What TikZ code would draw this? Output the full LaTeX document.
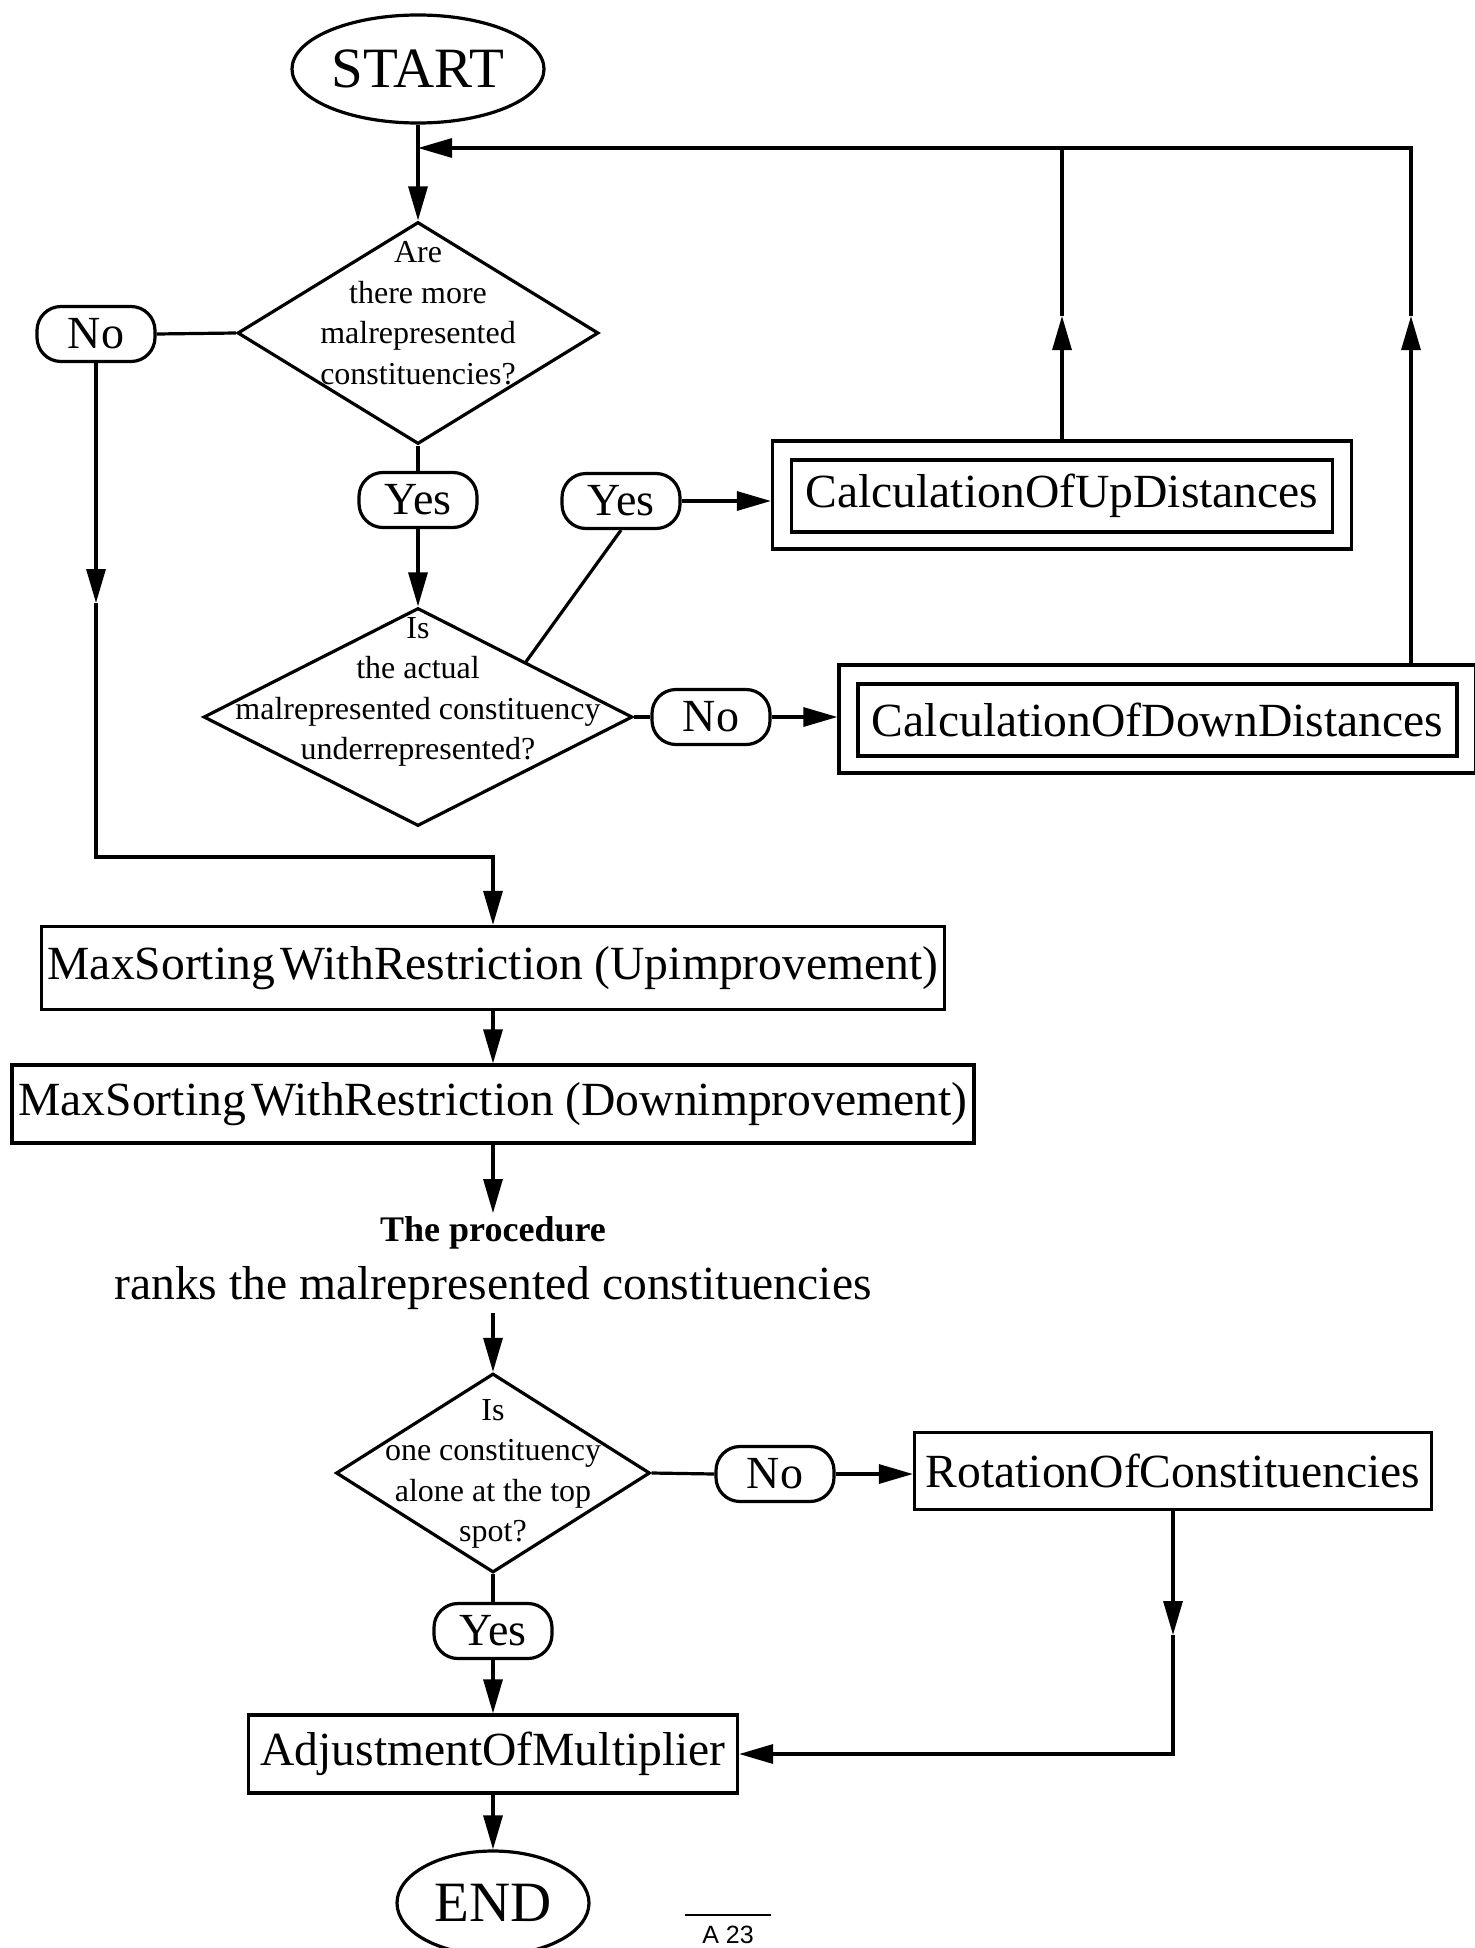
\documentclass[tikz,border=0pt]{standalone}
\usepackage{fontspec}
\setmainfont{Liberation Serif}
\newfontfamily\labelsans{Liberation Sans}
\usetikzlibrary{shapes.geometric,arrows.meta}

\begin{document}
\begin{tikzpicture}[x=0.5pt,y=-0.5pt,
  line width=1.6pt,
  arr/.style={-{Triangle[length=17pt,width=9.5pt]}},
  term/.style={ellipse,draw,inner sep=0pt,font=\fontsize{28.5}{30}\selectfont},
  ans/.style={draw,rounded corners=12pt,inner sep=0pt,minimum width=59pt,minimum height=27.5pt,font=\fontsize{23}{24}\selectfont},
  proc/.style={draw,inner sep=0pt,font=\fontsize{23.8}{25}\selectfont},
  outerbox/.style={draw,inner sep=0pt},
  decision/.style={diamond,draw,inner sep=0pt},
  qtext/.style={align=center,inner sep=0pt,font=\fontsize{16}{20.3}\selectfont},
  bigtext/.style={inner sep=1pt,font=\fontsize{23.8}{25}\selectfont},
  smalltext/.style={inner sep=1pt,font=\bfseries\fontsize{18}{20}\selectfont}]

\useasboundingbox (0,0) rectangle (1474,1948);

% --- upper loop -------------------------------------------------------
\node[term,minimum width=126pt,minimum height=54pt] (start) at (418,69) {START};

\node[decision,minimum width=180.5pt,minimum height=111pt] (d1) at (418,333) {};
\node[qtext] (q1) at (418,313) {Are\\there more\\malrepresented\\constituencies?};

\node[ans] (no1) at (96,334) {No};
\node[ans] (yes1) at (418,500) {Yes};

\node[decision,minimum width=214.5pt,minimum height=109pt] (d2) at (418,717) {};
\node[qtext] (q2) at (418,692) {Is\\the actual\\malrepresented constituency\\underrepresented?};

\node[ans] (yes2) at (621,501) {Yes};
\node[ans] (no2) at (711,717) {No};

\node[outerbox,minimum width=289.5pt,minimum height=54pt] (cup) at (1062,495) {};
\node[proc,minimum width=270.5pt,minimum height=36pt] (cupin) at (1062,496) {CalculationOfUpDistances};

\node[outerbox,minimum width=318.5pt,minimum height=54pt] (cdown) at (1157.5,719) {};
\node[proc,minimum width=299.5pt,minimum height=36pt] (cdownin) at (1157.5,720) {CalculationOfDownDistances};

% --- sorting and ranking --------------------------------------------
\node[proc,minimum width=451.5pt,minimum height=41.5pt] (maxup) at (493,968)
  {MaxSorting\hspace{0.12em}WithRestriction (Upimprovement)};
\node[proc,minimum width=481pt,minimum height=39pt] (maxdown) at (493,1104)
  {MaxSorting\hspace{0.12em}WithRestriction (Downimprovement)};

\node[smalltext] (proc1) at (493,1233) {The procedure};
\node[bigtext] (proc2) at (493,1288) {ranks the malrepresented constituencies};

% --- final decision -------------------------------------------------
\node[decision,minimum width=157pt,minimum height=99.5pt] (d3) at (493,1473) {};
\node[qtext] (q3) at (493,1474) {Is\\one constituency\\alone at the top\\spot?};

\node[ans] (no3) at (775,1474) {No};
\node[proc,minimum width=258.5pt,minimum height=38.5pt] (rot) at (1173,1471) {RotationOfConstituencies};

\node[ans] (yes3) at (493,1631) {Yes};
\node[proc,minimum width=244.5pt,minimum height=39pt] (adj) at (493,1754) {AdjustmentOfMultiplier};

\node[term,minimum width=96pt,minimum height=52pt] (endn) at (493,1903) {END};

\node[inner xsep=8pt,inner ysep=5pt,font=\labelsans\fontsize{12.5}{14}\selectfont] (pnum) at (728,1935) {A 23};
\draw[line width=1pt] (pnum.north west) -- (pnum.north east);

% --- helper points ---------------------------------------------------
\coordinate (j1) at (418,148);
\coordinate (k1) at (1411,148);
\coordinate (up1) at (1062,316);
\coordinate (up2) at (1411,316);
\coordinate (dn1) at (96,603);
\coordinate (c1) at (96,857);
\coordinate (dn2) at (1173,1635);

% --- connectors ------------------------------------------------------
\draw[arr] (start.south) -- (d1.north);
\draw (d1.west) -- (no1.east);
\draw (d1.south) -- (yes1.north);
\draw[arr] (yes1.south) -- (d2.north);
\draw (d2.north east) -- (yes2.south);
\draw[arr] (yes2.east) -- (yes2.east -| cup.west);
\draw (d2.east) -- (no2.west);
\draw[arr] (no2.east) -- (no2.east -| cdown.west);

\draw[arr] (cup.north) -- (up1);
\draw (up1) -- (up1 |- j1);
\draw[arr] (cdown.north -| k1) -- (up2);
\draw[arr] (up2) -- (k1) -- (j1);

\draw[arr] (no1.south) -- (dn1);
\draw[arr] (dn1) -- (c1) -| (maxup.north);

\draw[arr] (maxup.south) -- (maxdown.north);
\draw[arr] (maxdown.south) -- (proc1.north);
\draw[arr] (proc2.south) -- (d3.north);

\draw (d3.east) -- (no3.west);
\draw[arr] (no3.east) -- (no3.east -| rot.west);
\draw[arr] (rot.south) -- (dn2);
\draw[arr] (dn2) |- (adj.east);

\draw (d3.south) -- (yes3.north);
\draw[arr] (yes3.south) -- (adj.north);
\draw[arr] (adj.south) -- (endn.north);
\end{tikzpicture}
\end{document}
